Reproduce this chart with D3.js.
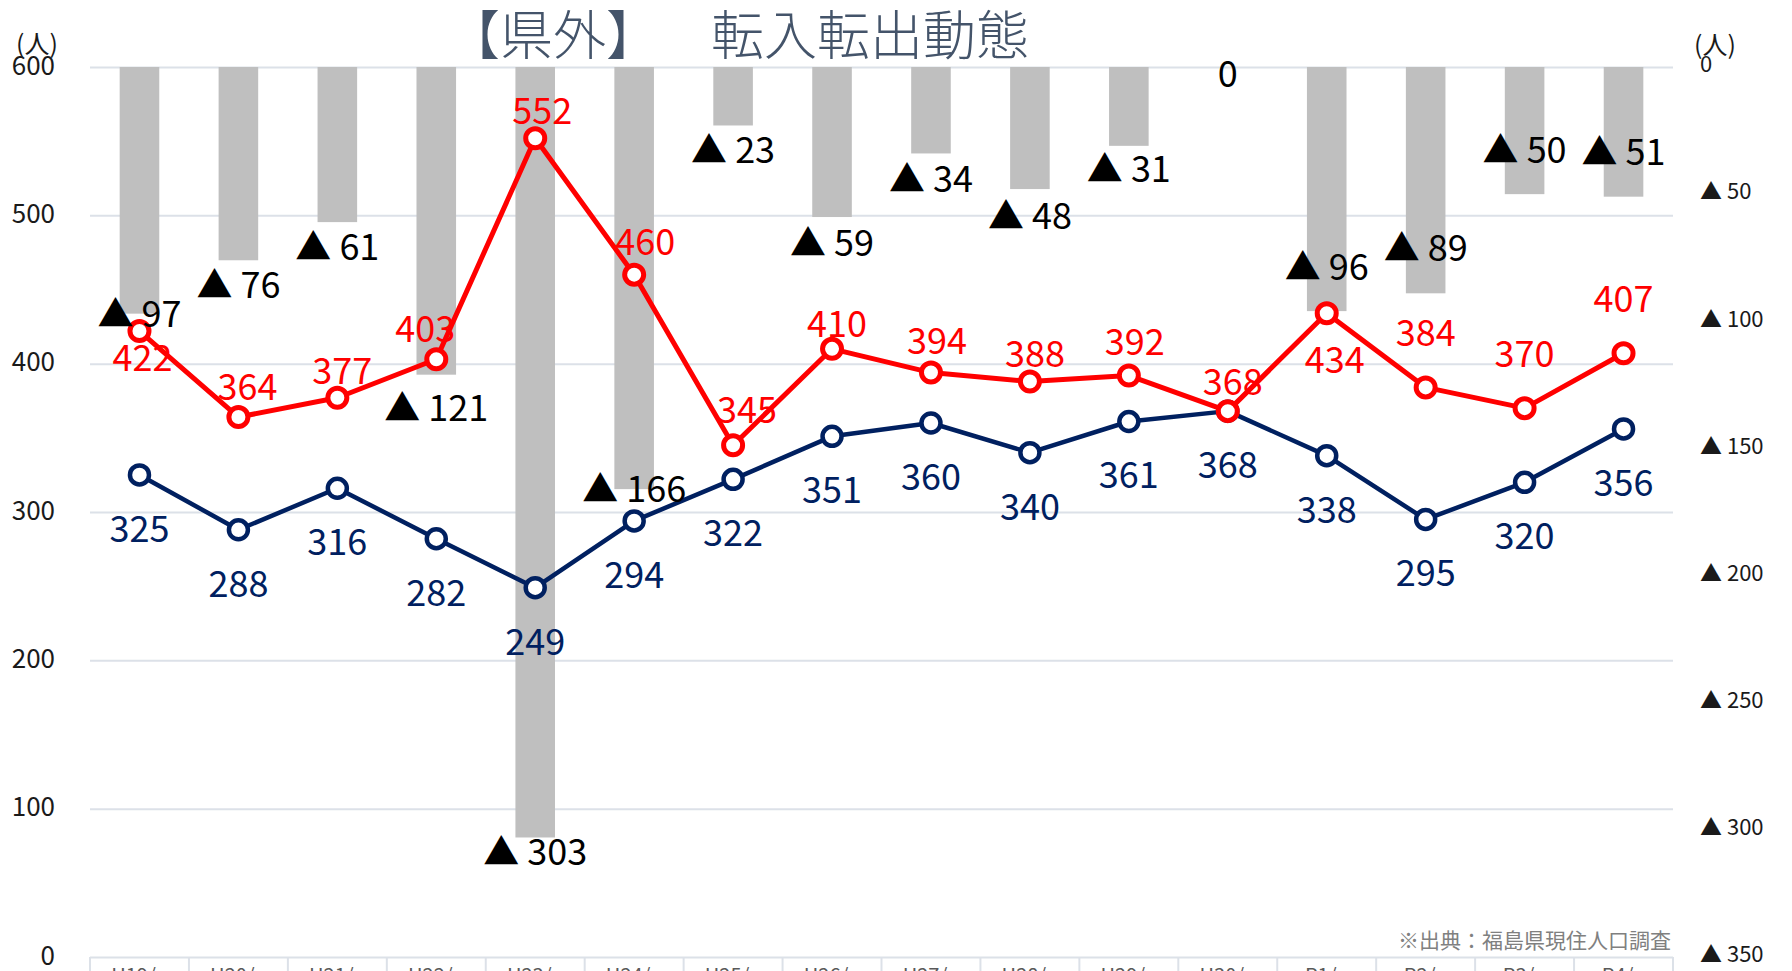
<!DOCTYPE html>
<html>
<head>
<meta charset="utf-8">
<script src="https://cdn.jsdelivr.net/npm/d3@7"></script>
<style>
  html, body { margin: 0; padding: 0; background: #fff; overflow: hidden; }
  svg { display: block; }
  text { font-family: "Noto Sans CJK JP", "Noto Sans", sans-serif; }
</style>
</head>
<body>
<svg id="chart" width="1792" height="971"></svg>
<script>
// ---- data ----
const categories = ["H19/","H20/","H21/","H22/","H23/","H24/","H25/","H26/","H27/","H28/","H29/","H30/","R1/","R2/","R3/","R4/"];
const tenshutsu = [422,364,377,403,552,460,345,410,394,388,392,368,434,384,370,407]; // 転出 (red)
const tennyu    = [325,288,316,282,249,294,322,351,360,340,361,368,338,295,320,356]; // 転入 (blue)
const netDecrease = [97,76,61,121,303,166,23,59,34,48,31,0,96,89,50,51];             // ▲ 転出超過 (bars)
const leftTicks  = [0,100,200,300,400,500,600];
const rightTicks = [0,50,100,150,200,250,300,350];
const titleParts = ["【県外】", "転入転出動態"];
const sourceText = "※出典：福島県現住人口調査";
const unitText = "(人)";

// ---- label layout tweaks (pixel offsets, not data) ----
const redLabelDx = [3,9,5,-11,7,11,14,5,6,5,6,5,8,0,0,0];
const redLabelDy = [27,-30,-27,-30,-27,-33,-35,-25,-32,-27,-33,-29,47,-54,-54,-54];
const blueLabelDy = 54;
const netLabelDy = [0,25,25,33,15,0,25,26,26,27,23,7,-44,-45,-44,-45];

const svg = d3.select("#chart");
const L = 90, R = 1673, T = 67, B = 957;

const x = d3.scaleBand().domain(categories).range([L, R]).padding(0);
const yL = d3.scaleLinear().domain([0, 600]).range([B, T]);
const yR = d3.scaleLinear().domain([0, 350]).range([T, B]);
const cx = c => x(c) + x.bandwidth() / 2;

const gridColor = "#dce1e8";

// gridlines
svg.append("g")
  .attr("transform", `translate(${L},0)`)
  .call(d3.axisLeft(yL).tickValues(leftTicks).tickSize(-(R - L)).tickFormat(""))
  .call(g => g.select(".domain").remove())
  .call(g => g.selectAll("line").attr("stroke", gridColor).attr("stroke-width", 2));

// category axis separators
const bounds = categories.map(c => x(c)).concat([R]);
svg.append("g").selectAll("line").data(bounds).join("line")
  .attr("x1", d => d).attr("x2", d => d)
  .attr("y1", B).attr("y2", 975)
  .attr("stroke", gridColor).attr("stroke-width", 2);

// category labels (cut off at bottom, as in reference)
svg.append("g").selectAll("text").data(categories).join("text")
  .attr("x", d => cx(d) - 6)
  .attr("y", 983)
  .attr("text-anchor", "middle")
  .attr("font-size", 20)
  .attr("fill", "#595959")
  .text(d => d);

// left axis labels
svg.append("g")
  .attr("transform", `translate(55,0)`)
  .call(d3.axisLeft(yL).tickValues(leftTicks).tickSize(0).tickPadding(0))
  .call(g => g.select(".domain").remove())
  .call(g => g.selectAll("text")
      .attr("font-size", 26).attr("fill", "#1a1a1a")
      .attr("font-family", '"Noto Sans CJK JP", sans-serif')
      .attr("dy", "0.28em"));

// right axis labels
svg.append("g")
  .attr("transform", `translate(1700,0)`)
  .call(d3.axisRight(yR).tickValues(rightTicks).tickSize(0).tickPadding(0)
      .tickFormat(d => d === 0 ? "0" : "▲ " + d))
  .call(g => g.select(".domain").remove())
  .call(g => g.selectAll("text")
      .attr("font-size", 22).attr("fill", "#1a1a1a")
      .attr("font-family", '"Noto Sans CJK JP", sans-serif')
      .attr("dy", "0.22em"));

// unit labels
svg.append("text").attr("x", 37).attr("y", 53).attr("text-anchor", "middle")
  .attr("font-size", 25).attr("fill", "#1a1a1a").text(unitText);
svg.append("text").attr("x", 1715).attr("y", 54).attr("text-anchor", "middle")
  .attr("font-size", 25).attr("fill", "#1a1a1a").text(unitText);

// title
const title = svg.append("text").attr("y", 55)
  .attr("font-size", 53).attr("fill", "#44546a").attr("font-weight", 300);
title.append("tspan").attr("x", 447).text(titleParts[0]);
title.append("tspan").attr("x", 711).text(titleParts[1]);

// bars
const barW = x.bandwidth() * 0.4;
svg.append("g").selectAll("rect").data(netDecrease).join("rect")
  .attr("x", (d, i) => cx(categories[i]) - barW / 2)
  .attr("y", yR(0))
  .attr("width", barW)
  .attr("height", d => yR(d) - yR(0))
  .attr("fill", "#bfbfbf");

// lines
function drawSeries(vals, color, lw) {
  const line = d3.line().x((d, i) => cx(categories[i])).y(d => yL(d));
  svg.append("path").datum(vals).attr("d", line)
    .attr("fill", "none").attr("stroke", color).attr("stroke-width", lw)
    .attr("stroke-linejoin", "round");
  svg.append("g").selectAll("circle").data(vals).join("circle")
    .attr("cx", (d, i) => cx(categories[i])).attr("cy", d => yL(d))
    .attr("r", 9.5).attr("fill", "#fff").attr("stroke", color).attr("stroke-width", lw);
}
drawSeries(tennyu, "#002060", 4.5);
drawSeries(tenshutsu, "#ff0000", 5);

const fs = 36;
// bar labels
svg.append("g").selectAll("text").data(netDecrease).join("text")
  .attr("x", (d, i) => cx(categories[i]))
  .attr("y", (d, i) => yR(d) + netLabelDy[i] + 0.36 * fs)
  .attr("text-anchor", "middle").attr("font-size", fs).attr("fill", "#000")
  .text(d => d === 0 ? "0" : "▲ " + d);

// blue labels
svg.append("g").selectAll("text").data(tennyu).join("text")
  .attr("x", (d, i) => cx(categories[i]))
  .attr("y", d => yL(d) + blueLabelDy + 0.36 * fs)
  .attr("text-anchor", "middle").attr("font-size", fs).attr("fill", "#002060")
  .text(d => d);

// red labels
svg.append("g").selectAll("text").data(tenshutsu).join("text")
  .attr("x", (d, i) => cx(categories[i]) + redLabelDx[i])
  .attr("y", (d, i) => yL(d) + redLabelDy[i] + 0.36 * fs)
  .attr("text-anchor", "middle").attr("font-size", fs).attr("fill", "#ff0000")
  .text(d => d);

// source
svg.append("text").attr("x", 1671).attr("y", 948).attr("text-anchor", "end")
  .attr("font-size", 21).attr("fill", "#808080").text(sourceText);
</script>
</body>
</html>
